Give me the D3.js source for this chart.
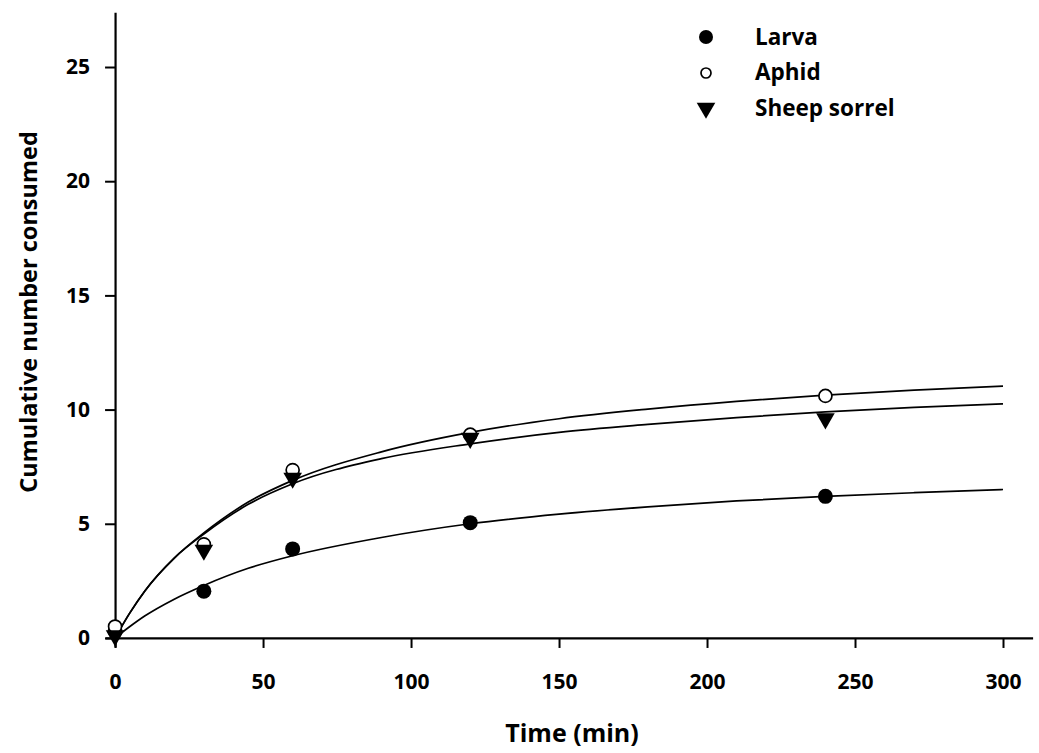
<!DOCTYPE html>
<html>
<head>
<meta charset="utf-8">
<script src="https://cdn.jsdelivr.net/npm/d3@7"></script>
<style>
  body { margin: 0; background: #fff; }
  text { font-family: "Open Sans", sans-serif; font-weight: bold; fill: #000; }
</style>
</head>
<body>
<div id="chart"></div>
<script>
// observed points
var times = [0, 30, 60, 120, 240];
var larva = [0.3, 2.05, 3.9, 5.05, 6.2];
var aphid = [0.5, 4.1, 7.35, 8.9, 10.6];
var sorrel = [0.1, 3.85, 7.0, 8.75, 9.6];

// fitted curves
var fitTimes = [0, 5, 10, 20, 30, 45, 60, 90, 120, 150, 180, 210, 240, 270, 300];
var larvaFit = [0, 0.5, 0.96, 1.7, 2.3, 3.05, 3.6, 4.4, 5.0, 5.42, 5.74, 6.0, 6.2, 6.36, 6.5];
var aphidFit = [0, 1.1, 2.05, 3.5, 4.6, 5.95, 6.9, 8.15, 9.0, 9.6, 10.02, 10.36, 10.63, 10.85, 11.03];
var sorrelFit = [0, 1.1, 2.05, 3.5, 4.55, 5.85, 6.75, 7.85, 8.5, 9.0, 9.35, 9.65, 9.9, 10.1, 10.25];

var xTicks = [0, 50, 100, 150, 200, 250, 300];
var yTicks = [0, 5, 10, 15, 20, 25];
var legendNames = ["Larva", "Aphid", "Sheep sorrel"];

var width = 1039, height = 753;

var svg = d3.select("#chart")
  .append("svg")
    .attr("width", width)
    .attr("height", height);

var x = d3.scaleLinear()
  .domain([-3.4, 310])
  .range([105, 1032.6]);

var y = d3.scaleLinear()
  .domain([-0.4, 27.4])
  .range([647.1, 12.2]);

// x axis
var xAxis = svg.append("g")
  .attr("transform", "translate(0," + y(0) + ")")
  .call(d3.axisBottom(x).tickValues(xTicks).tickSize(10).tickSizeOuter(0).tickPadding(26));
xAxis.selectAll("text").style("font-size", "21px").attr("font-family", null);

// y axis
var yAxis = svg.append("g")
  .attr("transform", "translate(" + x(0) + ",0)")
  .call(d3.axisLeft(y).tickValues(yTicks).tickSize(10).tickSizeOuter(0).tickPadding(15));
yAxis.selectAll("text").style("font-size", "21px").attr("font-family", null);

svg.selectAll(".domain").attr("stroke", "#000").attr("stroke-width", 2.2);
svg.selectAll(".tick line").attr("stroke", "#000").attr("stroke-width", 2);

// axis titles
svg.append("text")
  .attr("x", 572)
  .attr("y", 742)
  .attr("text-anchor", "middle")
  .style("font-size", "25px")
  .text("Time (min)");

svg.append("text")
  .attr("transform", "translate(37,312) rotate(-90)")
  .attr("text-anchor", "middle")
  .style("font-size", "23.5px")
  .text("Cumulative number consumed");

// fitted lines
var line = d3.line()
  .x(function(d) { return x(d[0]); })
  .y(function(d) { return y(d[1]); })
  .curve(d3.curveMonotoneX);

[larvaFit, aphidFit, sorrelFit].forEach(function(fit) {
  svg.append("path")
    .datum(fitTimes.map(function(t, i) { return [t, fit[i]]; }))
    .attr("fill", "none")
    .attr("stroke", "#000")
    .attr("stroke-width", 1.7)
    .attr("d", line);
});

var tri = d3.symbol().type(d3.symbolTriangle).size(150);

// larva points
svg.append("g")
  .selectAll("circle")
  .data(times.map(function(t, i) { return [t, larva[i]]; }))
  .enter()
  .append("circle")
    .attr("cx", function(d) { return x(d[0]); })
    .attr("cy", function(d) { return y(d[1]); })
    .attr("r", 7.5)
    .attr("fill", "#000");

// aphid points
svg.append("g")
  .selectAll("circle")
  .data(times.map(function(t, i) { return [t, aphid[i]]; }))
  .enter()
  .append("circle")
    .attr("cx", function(d) { return x(d[0]); })
    .attr("cy", function(d) { return y(d[1]); })
    .attr("r", 6.5)
    .attr("fill", "#fff")
    .attr("stroke", "#000")
    .attr("stroke-width", 1.7);

// sheep sorrel points
svg.append("g")
  .selectAll("path")
  .data(times.map(function(t, i) { return [t, sorrel[i]]; }))
  .enter()
  .append("path")
    .attr("d", tri)
    .attr("transform", function(d) { return "translate(" + x(d[0]) + "," + y(d[1]) + ") rotate(180)"; })
    .attr("fill", "#000");

// legend
var legend = svg.append("g").attr("transform", "translate(706,37)");
legend.append("circle").attr("cx", 0).attr("cy", 0).attr("r", 7).attr("fill", "#000");
legend.append("circle").attr("cx", 0).attr("cy", 36).attr("r", 5).attr("fill", "#fff")
  .attr("stroke", "#000").attr("stroke-width", 1.7);
legend.append("path").attr("d", tri).attr("transform", "translate(0,71) rotate(180)").attr("fill", "#000");

legend.selectAll("text.lab")
  .data(legendNames)
  .enter()
  .append("text")
    .attr("class", "lab")
    .attr("x", 49)
    .attr("y", function(d, i) { return i * 35.5; })
    .attr("dy", "0.35em")
    .style("font-size", "22.5px")
    .text(function(d) { return d; });
</script>
</body>
</html>
